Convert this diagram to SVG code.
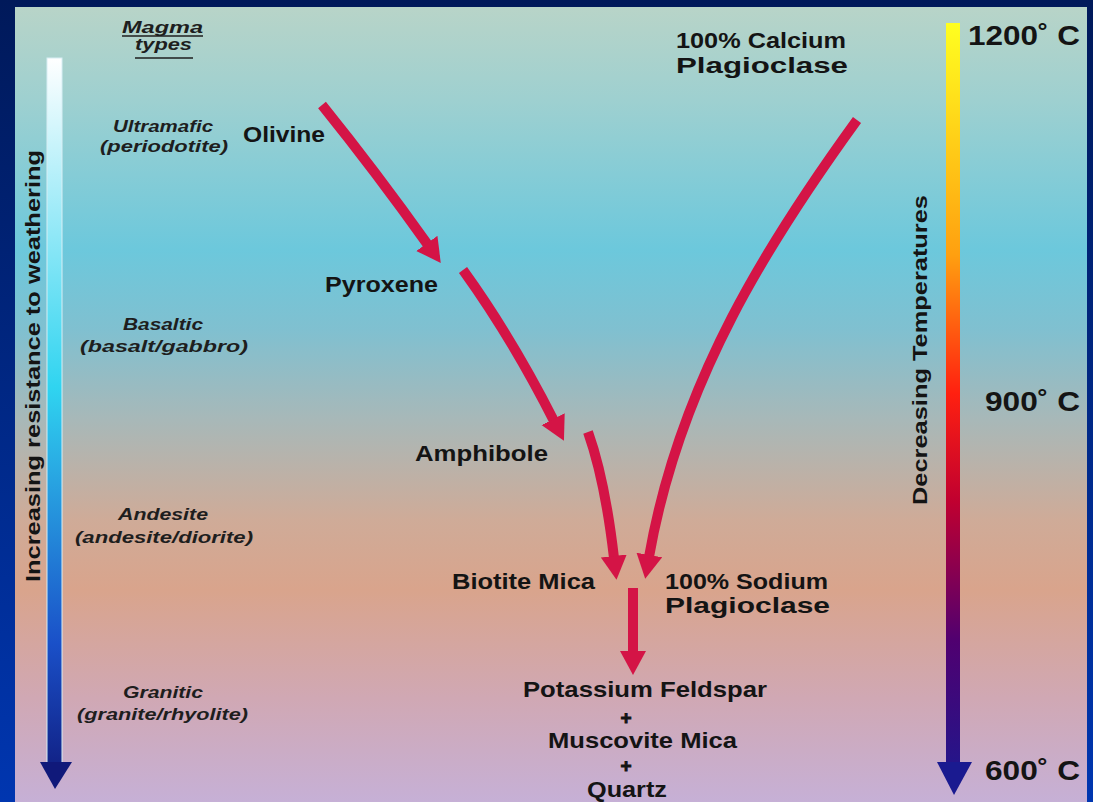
<svg xmlns="http://www.w3.org/2000/svg" width="1093" height="802" viewBox="0 0 1093 802">
<defs>
<linearGradient id="frame" x1="0" y1="0" x2="0" y2="1">
<stop offset="0" stop-color="#00195a"/>
<stop offset="1" stop-color="#0036b0"/>
</linearGradient>
<linearGradient id="panel" x1="0" y1="0" x2="0" y2="1">
<stop offset="0" stop-color="#b8d4c8"/>
<stop offset="0.117" stop-color="#9ed0d0"/>
<stop offset="0.305" stop-color="#6cc8dc"/>
<stop offset="0.406" stop-color="#80c0d0"/>
<stop offset="0.52" stop-color="#a8b8b8"/>
<stop offset="0.645" stop-color="#cfab98"/>
<stop offset="0.733" stop-color="#d9a48c"/>
<stop offset="0.87" stop-color="#d0a8b4"/>
<stop offset="1" stop-color="#c6b0d6"/>
</linearGradient>
<linearGradient id="leftbar" x1="0" y1="58" x2="0" y2="790" gradientUnits="userSpaceOnUse">
<stop offset="0" stop-color="#ffffff"/>
<stop offset="0.45" stop-color="#30d4f0"/>
<stop offset="0.8" stop-color="#1a50c8"/>
<stop offset="1" stop-color="#10197a"/>
</linearGradient>
<linearGradient id="rightbar" x1="0" y1="23" x2="0" y2="795" gradientUnits="userSpaceOnUse">
<stop offset="0" stop-color="#ffff20"/>
<stop offset="0.3" stop-color="#ffa010"/>
<stop offset="0.48" stop-color="#ff2010"/>
<stop offset="0.62" stop-color="#c00030"/>
<stop offset="0.8" stop-color="#500070"/>
<stop offset="1" stop-color="#1a1a90"/>
</linearGradient>
<marker id="head" markerUnits="userSpaceOnUse" markerWidth="30" markerHeight="30" refX="2" refY="13" orient="auto" viewBox="0 0 30 30">
<path d="M0,0 L24,13 L0,26 Z" fill="#d41446"/>
</marker>
<style>
.min{font-family:"Liberation Sans",Arial,sans-serif;font-weight:bold;font-size:22px;fill:#141414}
.plus{font-family:"Liberation Sans",Arial,sans-serif;font-weight:bold;font-size:19px;fill:#141414;stroke:#141414;stroke-width:0.9}
.mag{font-family:"Liberation Sans",Arial,sans-serif;font-weight:bold;font-style:italic;font-size:16px;fill:#1e1e1e}
.tmp{font-family:"Liberation Sans",Arial,sans-serif;font-weight:bold;font-size:28px;fill:#141414}
.ax{font-family:"Liberation Sans",Arial,sans-serif;font-weight:bold;font-size:20px;fill:#141414}
.arr{fill:none;stroke:#d41446;stroke-width:10;marker-end:url(#head)}
</style>
</defs>
<rect x="0" y="0" width="1093" height="802" fill="url(#frame)"/>
<rect x="15" y="7" width="1072" height="795" fill="url(#panel)"/>

<g id="left-scale">
<rect x="47" y="58" width="15" height="706" fill="url(#leftbar)" stroke="#d8eef4" stroke-width="1"/>
<polygon points="40,762 72,762 55,789" fill="#10197a"/>
<text class="ax" transform="translate(40,366) rotate(-90)" text-anchor="middle" textLength="432" lengthAdjust="spacingAndGlyphs">Increasing resistance to weathering</text>
</g>

<g id="right-scale">
<rect x="946" y="23" width="14" height="741" fill="url(#rightbar)"/>
<polygon points="937,762 972,762 954,795" fill="#1a1a90"/>
<text class="ax" transform="translate(927,350) rotate(-90)" text-anchor="middle" textLength="310" lengthAdjust="spacingAndGlyphs">Decreasing Temperatures</text>
<text class="tmp" x="968" y="45" textLength="112" lengthAdjust="spacingAndGlyphs">1200˚ C</text>
<text class="tmp" x="985" y="411" textLength="95" lengthAdjust="spacingAndGlyphs">900˚ C</text>
<text class="tmp" x="985" y="780" textLength="95" lengthAdjust="spacingAndGlyphs">600˚ C</text>
</g>

<g id="magma-types">
<text class="mag" x="122" y="33" textLength="81" lengthAdjust="spacingAndGlyphs">Magma</text>
<line x1="122" y1="36" x2="203" y2="36" stroke="#1e1e1e" stroke-width="1.5"/>
<text class="mag" x="135" y="50" textLength="57" lengthAdjust="spacingAndGlyphs">types</text>
<line x1="135" y1="58" x2="193" y2="58" stroke="#1e1e1e" stroke-width="1.5"/>
</g>
<g id="ultramafic">
<text class="mag" x="113" y="132" textLength="100" lengthAdjust="spacingAndGlyphs">Ultramafic</text>
<text class="mag" x="100" y="152" textLength="128" lengthAdjust="spacingAndGlyphs">(periodotite)</text>
</g>
<g id="basaltic">
<text class="mag" x="123" y="330" textLength="80" lengthAdjust="spacingAndGlyphs">Basaltic</text>
<text class="mag" x="80" y="352" textLength="168" lengthAdjust="spacingAndGlyphs">(basalt/gabbro)</text>
</g>
<g id="andesite">
<text class="mag" x="118" y="520" textLength="90" lengthAdjust="spacingAndGlyphs">Andesite</text>
<text class="mag" x="75" y="543" textLength="178" lengthAdjust="spacingAndGlyphs">(andesite/diorite)</text>
</g>
<g id="granitic">
<text class="mag" x="123" y="698" textLength="80" lengthAdjust="spacingAndGlyphs">Granitic</text>
<text class="mag" x="77" y="720" textLength="171" lengthAdjust="spacingAndGlyphs">(granite/rhyolite)</text>
</g>

<g id="olivine"><text class="min" x="243" y="142" textLength="82" lengthAdjust="spacingAndGlyphs">Olivine</text></g>
<g id="pyroxene"><text class="min" x="325" y="292" textLength="113" lengthAdjust="spacingAndGlyphs">Pyroxene</text></g>
<g id="amphibole"><text class="min" x="415" y="461" textLength="133" lengthAdjust="spacingAndGlyphs">Amphibole</text></g>
<g id="biotite"><text class="min" x="452" y="589" textLength="143" lengthAdjust="spacingAndGlyphs">Biotite Mica</text></g>
<g id="calcium-plagioclase">
<text class="min" x="676" y="48" textLength="170" lengthAdjust="spacingAndGlyphs">100% Calcium</text>
<text class="min" x="676" y="73" textLength="172" lengthAdjust="spacingAndGlyphs">Plagioclase</text>
</g>
<g id="sodium-plagioclase">
<text class="min" x="665" y="589" textLength="163" lengthAdjust="spacingAndGlyphs">100% Sodium</text>
<text class="min" x="665" y="613" textLength="165" lengthAdjust="spacingAndGlyphs">Plagioclase</text>
</g>
<g id="final">
<text class="min" x="523" y="697" textLength="244" lengthAdjust="spacingAndGlyphs">Potassium Feldspar</text>
<text class="plus" x="626" y="724" text-anchor="middle">+</text>
<text class="min" x="548" y="748" textLength="189" lengthAdjust="spacingAndGlyphs">Muscovite Mica</text>
<text class="plus" x="626" y="772" text-anchor="middle">+</text>
<text class="min" x="587" y="797" textLength="80" lengthAdjust="spacingAndGlyphs">Quartz</text>
</g>

<g id="connectors">
<path class="arr" d="M322,105 Q376,172 428,245"/>
<path class="arr" d="M463,270 Q512,338 554,421"/>
<path class="arr" d="M588,432 Q605,480 614,558"/>
<path class="arr" d="M857,120 C770,240 680,380 649,557"/>
<path class="arr" d="M633,588 L633,653"/>
</g>
</svg>
